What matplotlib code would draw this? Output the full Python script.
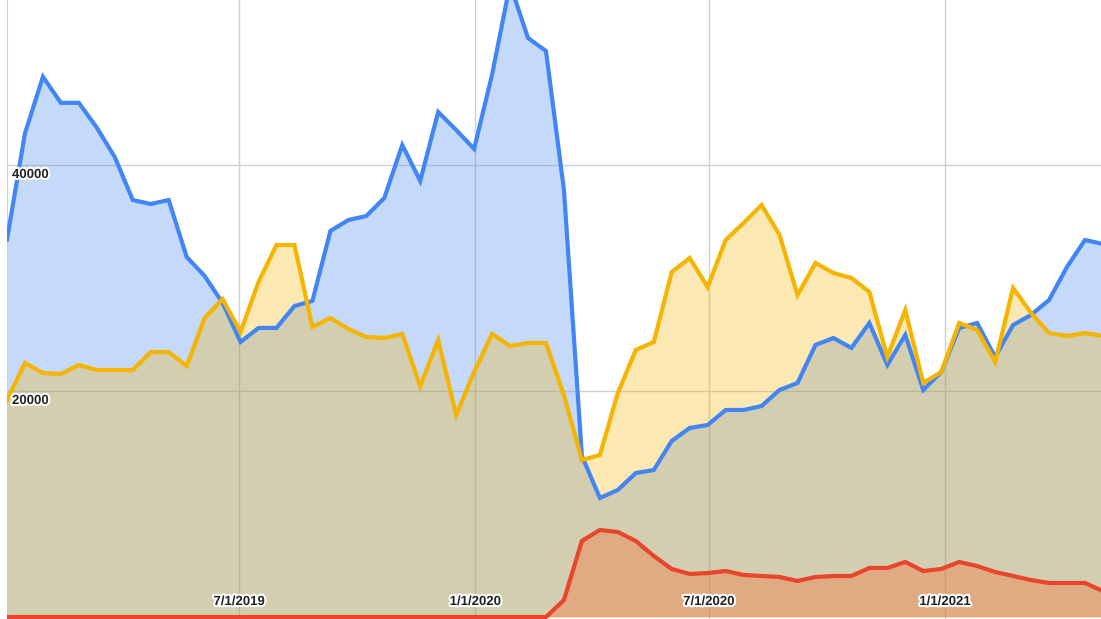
import numpy as np
from matplotlib import pyplot as plt
import matplotlib.dates as mdates
import matplotlib.patheffects as pe

# biweekly points starting 1/1/2019
start = np.datetime64('2019-01-01')
n_points = 62
dates = start + np.arange(n_points) * np.timedelta64(14, 'D')

blue = [33400, 42800, 47800, 45500, 45500, 43300, 40700, 36900, 36550, 36900,
        31860, 30180, 27790, 24340, 25580, 25580, 27520, 27970, 34160, 35130,
        35490, 37080, 41770, 38590, 44690, 43100, 41420, 48000, 56000, 51240,
        50090, 37790, 14250, 10530, 11240, 12740, 13010, 15580, 16730, 16990,
        18320, 18320, 18670, 20090, 20710, 24070, 24690, 23810, 26020, 22300,
        24960, 20090, 21680, 25580, 26020, 23010, 25840, 26730, 28050, 30980,
        33360, 33010]
yellow = [19200, 22480, 21590, 21510, 22300, 21860, 21860, 21860, 23450, 23450,
          22210, 26460, 28140, 25220, 29650, 32920, 32920, 25670, 26460, 25490,
          24780, 24690, 25050, 20440, 24510, 17880, 21680, 25050, 23980, 24250,
          24250, 19650, 13890, 14340, 19820, 23630, 24340, 30530, 31770, 29200,
          33360, 34870, 36460, 33810, 28500, 31330, 30440, 30000, 28760, 23010,
          27170, 20710, 21680, 26020, 25400, 22570, 29120, 26900, 25130, 24870,
          25130, 24870]
red = [0] * 31 + [1500, 6730, 7700, 7520, 6730, 5400, 4250, 3810, 3890,
                  4070, 3720, 3630, 3540, 3190, 3540, 3630, 3630, 4340, 4340,
                  4870, 4070, 4250, 4870, 4510, 3980, 3630, 3270, 3010, 3010,
                  3010, 2300]

y_ticks = [20000, 40000]
x_ticks = ['2019-07-01', '2020-01-01', '2020-07-01', '2021-01-01']
x_labels = ['7/1/2019', '1/1/2020', '7/1/2020', '1/1/2021']

# (values, line colour, fill colour)
series = [(blue, '#4285f4', '#4285f4'), (yellow, '#f4b400', '#f4b400'),
          (red, '#e8452c', '#ff581e')]

fig = plt.figure(figsize=(11.01, 6.19), dpi=100)
ax = fig.add_axes([7 / 1101, 0, 1094 / 1101, 1])

x = mdates.date2num(dates.astype('datetime64[D]').astype(object))
for k, (vals, col, fcol) in enumerate(series):
    ax.fill_between(x, 0, vals, color=fcol, alpha=0.3, linewidth=0, zorder=2 + k)
for k, (vals, col, fcol) in enumerate(series):
    ax.plot(x, vals, color=col, lw=3, solid_joinstyle='miter', zorder=6 + k)

x0 = mdates.date2num(np.datetime64('2019-01-01').astype(object))
ax.set_xlim(x0, x0 + 852.5)
ax.set_ylim(-177, 54600)

xt = [mdates.date2num(np.datetime64(d).astype(object)) for d in x_ticks]
ax.set_xticks(xt)
ax.set_yticks(y_ticks)
ax.set_xticklabels([])
ax.set_yticklabels([])
ax.tick_params(length=0)
ax.grid(True, color='#d0d0d0', lw=1, zorder=1)
ax.set_axisbelow(True)
for s in ['top', 'right', 'bottom']:
    ax.spines[s].set_visible(False)
ax.spines['left'].set_color('#d0d0d0')

halo = [pe.withStroke(linewidth=3, foreground='white')]
for pos, lab in zip(xt, x_labels):
    ax.annotate(lab, (pos, 0), xycoords=('data', 'axes fraction'),
                xytext=(0, 17), textcoords='offset pixels', ha='center', va='center',
                fontsize=9.5, fontweight='bold', family='Liberation Sans', color='#222222',
                path_effects=halo, zorder=20)
for v in y_ticks:
    ax.annotate(str(v), (0, v), xycoords=('axes fraction', 'data'),
                xytext=(5, -10), textcoords='offset pixels', ha='left', va='center',
                fontsize=9.5, fontweight='bold', family='Liberation Sans', color='#222222',
                path_effects=halo, zorder=20)

fig.savefig('out.png', dpi=100)
